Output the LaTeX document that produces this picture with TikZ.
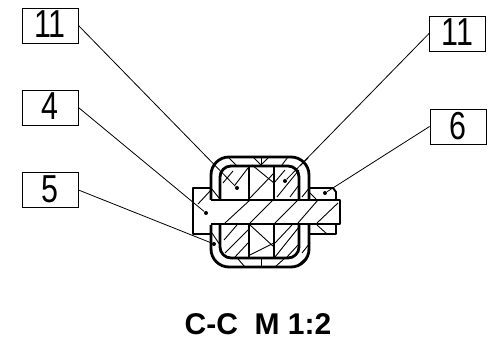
\documentclass[tikz,border=0pt]{standalone}
\usepackage{fontspec}
\setmainfont{Liberation Sans}
\usetikzlibrary{positioning}
\tikzstyle{partbox} = [rectangle, draw=black, line width=0.45pt, minimum width=28pt, minimum height=17.5pt, inner sep=0pt, font=\fontsize{19.5}{19.5}\selectfont]
\tikzstyle{leader} = [line width=0.4pt]
\tikzstyle{dotend} = [fill=black, circle, inner sep=0pt, minimum size=2pt]
\tikzstyle{heavy} = [line width=1.4pt, line join=round]
\tikzstyle{medium} = [line width=0.95pt, line join=round]
\tikzstyle{hatch} = [line width=0.45pt]
\newcommand{\partnum}[1]{\raisebox{1pt}{\scalebox{0.78}[1]{#1}}}
\begin{document}
\begin{tikzpicture}[x=0.5pt,y=-0.5pt]
	\useasboundingbox (0,0) rectangle (488,341);
	\node (box11a) [partbox] at (50,25.5) {\partnum{11}};
	\node (box4) [partbox] at (50,107.5) {\partnum{4}};
	\node (box5) [partbox] at (50,190) {\partnum{5}};
	\node (box11b) [partbox] at (457.5,33.5) {\partnum{11}};
	\node (box6) [partbox] at (458,126.5) {\partnum{6}};
	\node (title) at (258,324) {\fontsize{15}{15}\selectfont\bfseries C-C\ \ M 1:2};
	
	%hatching
	\foreach \xa/\ya/\xb/\yb in {
		228/157/236/165, 253/157/261/165, 269/157/261/165, 282/165/288/157, 300/166/308/158,
		223/183/233/171, 235/185/248/168, 252/165/274/183, 250/198/274/173,
		274/183/285/170, 277/197/299/170, 290/197/299/185,
		211/188/219/198, 198/204/211/190, 302/197/310/187, 310/193/316/199,
		225/223/250/200, 250/223/273/200, 275/223/298/200, 298/223/318/200, 317/223/338/203,
		224/240/237/225, 225/253/248/230, 235/257/248/243, 212/233/220/245,
		250/225/274/247, 250/255/274/243, 275/257/299/227, 275/243/292/225, 287/257/298/245,
		302/253/310/243, 317/225/327/234,
		238/259/245/267, 275/267/285/258, 298/265/307/257}
		{\draw [hatch] (\xa,\ya) -- (\xb,\yb);}
	\draw [hatch] (261,157) -- (261,166);
	\draw [hatch] (261,258) -- (261,267);
	
	%housing and shaft
	\draw [medium] (211,188) -- (193,188) -- (193,234) -- (211,234);
	\draw [medium] (310,188) -- (333,188) -- (336,192) -- (336,200);
	\draw [medium] (310,234) -- (336,234) -- (336,224);
	\draw [heavy, rounded corners=9pt] (211,200) -- (211,157) -- (309,157) -- (309,200);
	\draw [heavy, rounded corners=9pt] (211,225) -- (211,267) -- (309,267) -- (309,225);
	\draw [heavy, rounded corners=5.5pt] (220,200) -- (220,166) -- (299,166) -- (299,200);
	\draw [heavy, rounded corners=5.5pt] (220,225) -- (220,258) -- (299,258) -- (299,225);
	\draw [medium] (249,166) -- (249,200);
	\draw [medium] (274,166) -- (274,200);
	\draw [medium] (249,225) -- (249,258);
	\draw [medium] (274,225) -- (274,258);
	\draw [heavy] (211,200) -- (340,200) -- (340,224) -- (211,224);
	
	%leader ends
	\node (end11a) [dotend] at (237,188) {};
	\node (end4) [dotend] at (206,213) {};
	\node (end5) [dotend] at (214,244) {};
	\node (end11b) [dotend] at (285,181) {};
	\node (end6) [dotend] at (325,193) {};
	\draw [leader](box11a.east) -- (end11a);
	\draw [leader](box4.east) -- (end4);
	\draw [leader](box5.east) -- (end5);
	\draw [leader](box11b.west) -- (end11b);
	\draw [leader](box6.west) -- (end6);
\end{tikzpicture}
\end{document}
